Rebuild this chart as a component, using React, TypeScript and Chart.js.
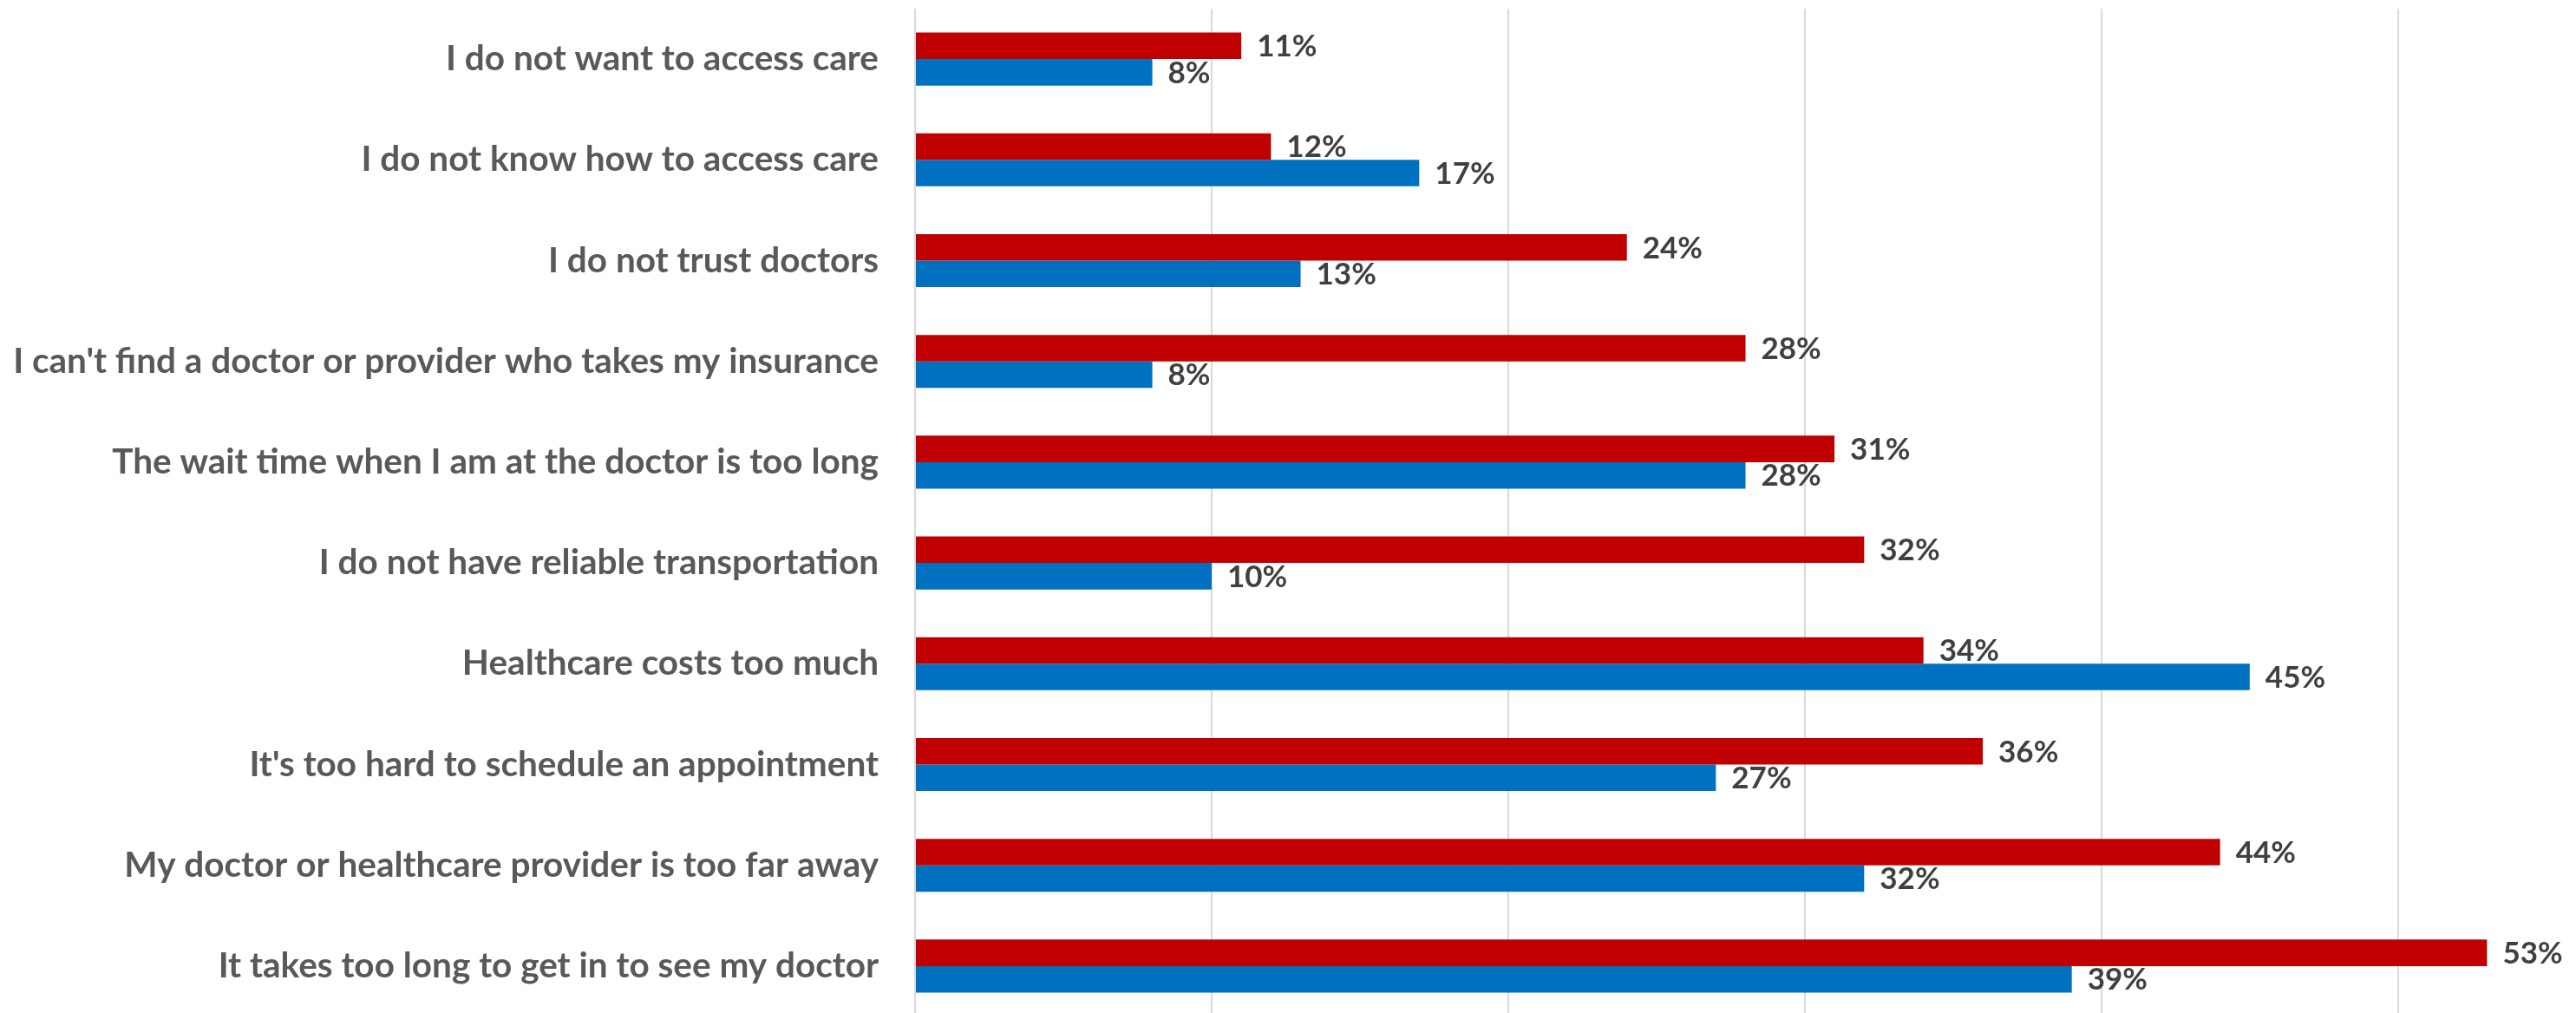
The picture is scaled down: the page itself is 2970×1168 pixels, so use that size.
import React, { useEffect, useRef } from "react";
import { Chart, registerables } from "chart.js";

Chart.register(...registerables);

const categories = [
  "I do not want to access care",
  "I do not know how to access care",
  "I do not trust doctors",
  "I can't find a doctor or provider who takes my insurance",
  "The wait time when I am at the doctor is too long",
  "I do not have reliable transportation",
  "Healthcare costs too much",
  "It's too hard to schedule an appointment",
  "My doctor or healthcare provider is too far away",
  "It takes too long to get in to see my doctor",
];

const redValues = [11, 12, 24, 28, 31, 32, 34, 36, 44, 53];
const blueValues = [8, 17, 13, 8, 28, 10, 45, 27, 32, 39];

const FONT = "Lato, 'Open Sans', sans-serif";

const dataLabelPlugin = {
  id: "dataLabels",
  afterDatasetsDraw(chart: any) {
    const ctx = chart.ctx;
    ctx.save();
    ctx.font = `bold 35px ${FONT}`;
    ctx.fillStyle = "#404040";
    ctx.textAlign = "left";
    ctx.textBaseline = "middle";
    chart.data.datasets.forEach((ds: any, di: number) => {
      const meta = chart.getDatasetMeta(di);
      meta.data.forEach((bar: any, i: number) => {
        ctx.fillText(`${ds.data[i]}%`, bar.x + 18, bar.y + 1);
      });
    });
    ctx.restore();
  },
};

export default function App() {
  const ref = useRef<HTMLCanvasElement | null>(null);
  useEffect(() => {
    if (!ref.current) return;
    const chart = new Chart(ref.current, {
      type: "bar",
      data: {
        labels: categories,
        datasets: [
          {
            label: "Red",
            data: redValues,
            backgroundColor: "#C00000",
            categoryPercentage: 0.526,
            barPercentage: 1,
          },
          {
            label: "Blue",
            data: blueValues,
            backgroundColor: "#0070C0",
            categoryPercentage: 0.526,
            barPercentage: 1,
          },
        ],
      },
      options: {
        indexAxis: "y",
        animation: false,
        responsive: false,
        maintainAspectRatio: false,
        layout: { padding: { top: 10, bottom: 4, left: 0, right: 0 } },
        plugins: {
          legend: { display: false },
          tooltip: { enabled: false },
        },
        scales: {
          x: {
            min: 0,
            max: 56,
            ticks: { display: false, stepSize: 10, includeBounds: false },
            grid: { color: "#D9D9D9", lineWidth: 2, drawTicks: false },
            border: { display: false },
          },
          y: {
            grid: { display: false, drawTicks: false },
            border: { display: false },
            ticks: {
              padding: 42,
              color: "#595959",
              font: { family: FONT, size: 40.5, weight: "bold" },
              autoSkip: false,
            },
            afterFit: (scale: any) => {
              scale.width = 1055;
              scale.paddingTop = 0;
              scale.paddingBottom = 0;
            },
          },
        },
      },
      plugins: [dataLabelPlugin],
    } as any);
    return () => chart.destroy();
  }, []);
  return (
    <div
      style={{
        position: "fixed",
        left: 0,
        top: 0,
        width: 2970,
        height: 1176,
        background: "#fff",
      }}
    >
      <canvas ref={ref} width={2970} height={1176} style={{ display: "block" }} />
    </div>
  );
}
